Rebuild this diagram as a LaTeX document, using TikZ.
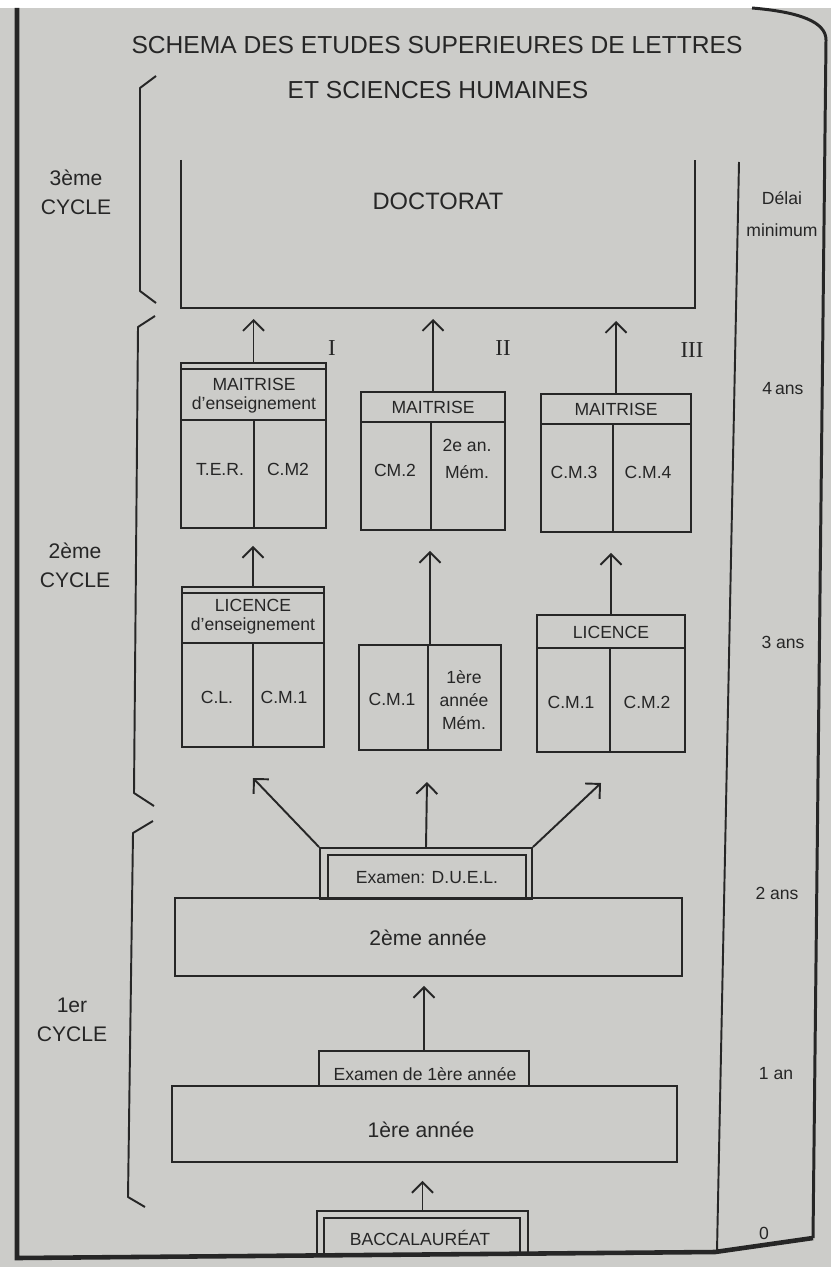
\documentclass[tikz,border=0pt]{standalone}
\usepackage{fontspec}
\setmainfont{Liberation Sans}
\newfontfamily\romanfont{Liberation Serif}
\usetikzlibrary{arrows.meta, fit}
\definecolor{paper}{RGB}{204,204,201}
\definecolor{ink}{RGB}{38,38,38}
\tikzset{
    box/.style={draw=ink, line width=1.1pt, rectangle, inner sep=0pt},
    rule/.style={draw=ink, line width=1.1pt},
    txt/.style={font=\fontsize{10}{13}\selectfont, text=ink, align=center, inner sep=0pt},
    bigtxt/.style={font=\fontsize{12}{16.5}\selectfont, text=ink, align=center, inner sep=0pt},
    sidetxt/.style={font=\fontsize{10}{18}\selectfont, text=ink, align=center, inner sep=0pt},
    titletxt/.style={font=\fontsize{14}{16}\selectfont, text=ink, inner sep=0pt},
    numeral/.style={font=\romanfont\fontsize{13}{15}\selectfont, text=ink, inner sep=0pt},
    link/.style={-{Straight Barb[length=6pt, width=12pt]}, line width=1.1pt, draw=ink},
    brace/.style={draw=ink, line width=1.1pt, line join=round},
    frame/.style={draw=ink, line width=2.6pt}
}

\begin{document}
\begin{tikzpicture}[x=0.02cm, y=-0.02cm]

\useasboundingbox (0,0) rectangle (831,1267);
\fill[paper] (0,0) rectangle (831,1267);
\fill[white] (0,0) rectangle (831,8);

% Frame
\draw[frame] (17,8) -- (17,1258) -- (715,1252) -- (813,1238);
\draw[frame, line width=1.7pt] (813,1238) -- (826,40) .. controls (826,22) and (800,12) .. (752,8);
\draw[rule] (739,162) -- (717,1251);

% Title
\node[titletxt] (title1) at (437,45) {SCHEMA DES ETUDES SUPERIEURES DE LETTRES};
\node[titletxt] (title2) at (438,90) {ET SCIENCES HUMAINES};

% Cycles
\draw[brace] (156,76) -- (140,88) -- (140,291) -- (156,303);
\draw[brace] (155,316) -- (138,327) -- (134,793) -- (154,806);
\draw[brace] (153,821) -- (133,833) -- (128,1197) -- (145,1207);
\node[bigtxt] (cyc3) at (76,192) {3ème\\CYCLE};
\node[bigtxt] (cyc2) at (75,565) {2ème\\CYCLE};
\node[bigtxt] (cyc1) at (72,1020) {1er\\CYCLE};

% Delays
\node[sidetxt] (delai) at (782,214) {Délai\\minimum};
\node[sidetxt] (d4) at (783,389) {4\,ans};
\node[sidetxt] (d3) at (783,642) {3 ans};
\node[sidetxt] (d2) at (777,893) {2 ans};
\node[sidetxt] (d1) at (776,1074) {1 an};
\node[sidetxt] (d0) at (764,1233) {0};

% Doctorat
\draw[rule] (181,160) -- (181,308) -- (695,308) -- (695,160);
\coordinate (docb) at (438,308);
\node[bigtxt, font=\fontsize{13.5}{16}\selectfont] (doc) at (438,201) {DOCTORAT};

% Branches
\node[numeral] (n1) at (332,348) {I};
\node[numeral] (n2) at (503,348) {II};
\node[numeral] (n3) at (692,350) {III};

% Maitrise I
\node[box, fit={(181,363) (326,528)}] (m1) {};
\draw[rule] (181,369) -- (326,369);
\draw[rule] (181,420) -- (326,420);
\draw[rule] (254,420) -- (254,528);
\node[txt, font=\fontsize{10}{11}\selectfont] (m1t) at (254,396) {MAITRISE\\d'enseignement};
\node[txt] (m1a) at (220,469) {T.E.R.};
\node[txt] (m1b) at (288,469) {C.M2};

% Maitrise II
\node[box, fit={(361,392) (505,530)}] (m2) {};
\draw[rule] (361,422) -- (505,422);
\draw[rule] (431,422) -- (431,530);
\node[txt] (m2t) at (433,407) {MAITRISE};
\node[txt] (m2a) at (395,470) {CM.2};
\node[txt, font=\fontsize{10}{15}\selectfont] (m2b) at (467,459) {2e an.\\Mém.};

% Maitrise III
\node[box, fit={(541,394) (691,532)}] (m3) {};
\draw[rule] (541,424) -- (691,424);
\draw[rule] (613,424) -- (613,532);
\node[txt] (m3t) at (616,409) {MAITRISE};
\node[txt] (m3a) at (574,472) {C.M.3};
\node[txt] (m3b) at (648,472) {C.M.4};

% Licence I
\node[box, fit={(182,587) (324,747)}] (l1) {};
\draw[rule] (182,593) -- (324,593);
\draw[rule] (182,643) -- (324,643);
\draw[rule] (253,643) -- (253,747);
\node[txt, font=\fontsize{10}{11}\selectfont] (l1t) at (253,617) {LICENCE\\d'enseignement};
\node[txt] (l1a) at (217,697) {C.L.};
\node[txt] (l1b) at (284,697) {C.M.1};

% Licence II
\node[box, fit={(359,645) (501,750)}] (l2) {};
\draw[rule] (428,645) -- (428,750);
\node[txt] (l2a) at (392,699) {C.M.1};
\node[txt] (l2b) at (464,700) {1ère\\année\\Mém.};

% Licence III
\node[box, fit={(537,615) (685,752)}] (l3) {};
\draw[rule] (537,648) -- (685,648);
\draw[rule] (610,648) -- (610,752);
\node[txt] (l3t) at (611,632) {LICENCE};
\node[txt] (l3a) at (571,702) {C.M.1};
\node[txt] (l3b) at (647,702) {C.M.2};

% Premier cycle
\node[box, fit={(320,848) (532,899)}] (duel) {};
\node[box, fit={(328,855) (526,899)}] (duelin) {};
\node[txt] (duelt) at (427,878) {Examen: D.U.E.L.};
\node[box, fit={(175,898) (682,976)}] (an2) {};
\node[txt, font=\fontsize{12}{14}\selectfont] (an2t) at (428,938) {2ème année};
\node[box, fit={(319,1051) (529,1086)}] (ex1) {};
\node[txt] (ex1t) at (425,1074) {Examen de 1ère année};
\node[box, fit={(172,1086) (677,1162)}] (an1) {};
\node[txt, font=\fontsize{12}{14}\selectfont] (an1t) at (421,1130) {1ère année};
\node[box, fit={(317,1211) (528,1254)}] (bac) {};
\node[box, fit={(324,1218) (520,1254)}] (bacin) {};
\node[txt] (bact) at (420,1238) {BACCALAURÉAT};

% Arrows
\coordinate (t1) at (253,778);
\coordinate (t2) at (427,782);
\coordinate (t3) at (601,783);
\draw[link, shorten >=0.22cm] (m1.north) -- (m1.north |- docb);
\draw[link, shorten >=0.22cm] (m2.north) -- (m2.north |- docb);
\draw[link, shorten >=0.26cm] (m3.north) -- (m3.north |- docb);
\draw[link, shorten >=0.34cm] (l1.north) -- (l1.north |- m1.south);
\draw[link, shorten >=0.4cm] (l2.north) -- (l2.north |- m2.south);
\draw[link, shorten >=0.4cm] (l3.north) -- (l3.north |- m3.south);
\draw[link] (duel.north west) -- (t1);
\draw[link] (duel.north) -- (t2);
\draw[link] (duel.north east) -- (t3);
\draw[link, shorten >=0.18cm] (ex1.north) -- (ex1.north |- an2.south);
\draw[link, shorten >=0.36cm] (bac.north) -- (bac.north |- an1.south);

\end{tikzpicture}
\end{document}
